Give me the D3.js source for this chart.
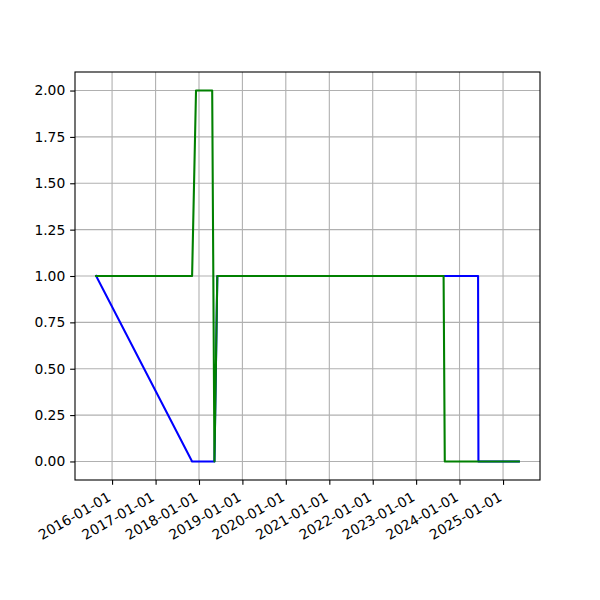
<!DOCTYPE html>
<html>
<head>
<meta charset="utf-8">
<script src="https://cdn.jsdelivr.net/npm/d3@7"></script>
<style>
  html, body { margin: 0; padding: 0; background: #fff; }
  svg { display: block; }
  text { font-family: "DejaVu Sans", sans-serif; }
</style>
</head>
<body>
<svg id="chart" width="600" height="600"></svg>
<script>
// ---- data ----
const blueDates  = ["2015-08-20", "2017-11-04", "2018-05-11", "2018-06-04", "2024-06-05", "2024-06-08", "2025-05-14"];
const blueValues = [1, 0, 0, 1, 1, 0, 0];
const greenDates  = ["2015-08-20", "2017-11-04", "2017-12-07", "2018-04-22", "2018-05-11", "2018-06-04", "2023-08-20", "2023-08-30", "2025-05-14"];
const greenValues = [1, 1, 2, 2, 0, 1, 1, 0, 0];
const xTickLabels = ["2016-01-01", "2017-01-01", "2018-01-01", "2019-01-01", "2020-01-01",
                     "2021-01-01", "2022-01-01", "2023-01-01", "2024-01-01", "2025-01-01"];
const yTicks = [0, 0.25, 0.5, 0.75, 1.0, 1.25, 1.5, 1.75, 2.0];

// ---- layout ----
const mLeft = 75, mRight = 540, mTop = 72, mBottom = 480;
const fontPx = 13.89, tickLen = 4.86, pad = 4.86;
const parse = d3.utcParse("%Y-%m-%d");

const blue = blueDates.map((d, i) => ({ x: parse(d), y: blueValues[i] }));
const green = greenDates.map((d, i) => ({ x: parse(d), y: greenValues[i] }));
const all = blue.concat(green);

const [xmin, xmax] = d3.extent(all, d => +d.x);
const xm = (xmax - xmin) * 0.05;
const x = d3.scaleUtc().domain([new Date(xmin - xm), new Date(xmax + xm)]).range([mLeft, mRight]);
const [ymin, ymax] = d3.extent(all, d => d.y);
const ym = (ymax - ymin) * 0.05;
const y = d3.scaleLinear().domain([ymin - ym, ymax + ym]).range([mBottom, mTop]);

const svg = d3.select("#chart");
svg.append("rect").attr("width", 600).attr("height", 600).attr("fill", "#fff");

const xTickDates = xTickLabels.map(parse);

// grid
const grid = svg.append("g");
grid.selectAll(".gx").data(xTickDates).join("line")
  .attr("x1", d => x(d)).attr("x2", d => x(d))
  .attr("y1", mTop).attr("y2", mBottom)
  .attr("stroke", "#b0b0b0").attr("stroke-width", 1.1);
grid.selectAll(".gy").data(yTicks).join("line")
  .attr("x1", mLeft).attr("x2", mRight)
  .attr("y1", d => y(d)).attr("y2", d => y(d))
  .attr("stroke", "#b0b0b0").attr("stroke-width", 1.1);

// lines
const line = d3.line().x(d => x(d.x)).y(d => y(d.y));
svg.append("clipPath").attr("id", "clip").append("rect")
  .attr("x", mLeft).attr("y", mTop).attr("width", mRight - mLeft).attr("height", mBottom - mTop);
svg.append("path").datum(blue).attr("d", line)
  .attr("fill", "none").attr("stroke", "#0000ff").attr("stroke-width", 2.08)
  .attr("stroke-linejoin", "round").attr("stroke-linecap", "square").attr("clip-path", "url(#clip)");
svg.append("path").datum(green).attr("d", line)
  .attr("fill", "none").attr("stroke", "#008000").attr("stroke-width", 2.08)
  .attr("stroke-linejoin", "round").attr("stroke-linecap", "square").attr("clip-path", "url(#clip)");

// y axis
const yAxis = d3.axisLeft(y).tickValues(yTicks).tickFormat(d3.format(".2f"))
  .tickSize(tickLen).tickPadding(pad);
const gy = svg.append("g").attr("transform", `translate(${mLeft},0)`).call(yAxis);
gy.select(".domain").remove();
gy.selectAll(".tick line").attr("stroke", "#000").attr("stroke-width", 1.1);
gy.selectAll(".tick text").attr("font-size", fontPx).attr("fill", "#000")
  .attr("font-family", "DejaVu Sans");

// x axis
const xAxis = d3.axisBottom(x).tickValues(xTickDates)
  .tickFormat((d, i) => xTickLabels[i]).tickSize(tickLen).tickPadding(pad);
const gx = svg.append("g").attr("transform", `translate(0,${mBottom})`).call(xAxis);
gx.select(".domain").remove();
gx.selectAll(".tick line").attr("stroke", "#000").attr("stroke-width", 1.1);
const asc = 0.76 * fontPx, desc = 0.24 * fontPx;
gx.selectAll(".tick text")
  .attr("font-size", fontPx).attr("fill", "#000").attr("font-family", "DejaVu Sans")
  .attr("text-anchor", "end").attr("dy", null)
  .attr("y", null)
  .attr("transform", `translate(${-desc / 2 + 1},${tickLen + pad + 0.866 * asc + 1}) rotate(-30)`);

// spines
svg.append("rect").attr("x", mLeft).attr("y", mTop)
  .attr("width", mRight - mLeft).attr("height", mBottom - mTop)
  .attr("fill", "none").attr("stroke", "#000").attr("stroke-width", 1.1);
</script>
</body>
</html>
